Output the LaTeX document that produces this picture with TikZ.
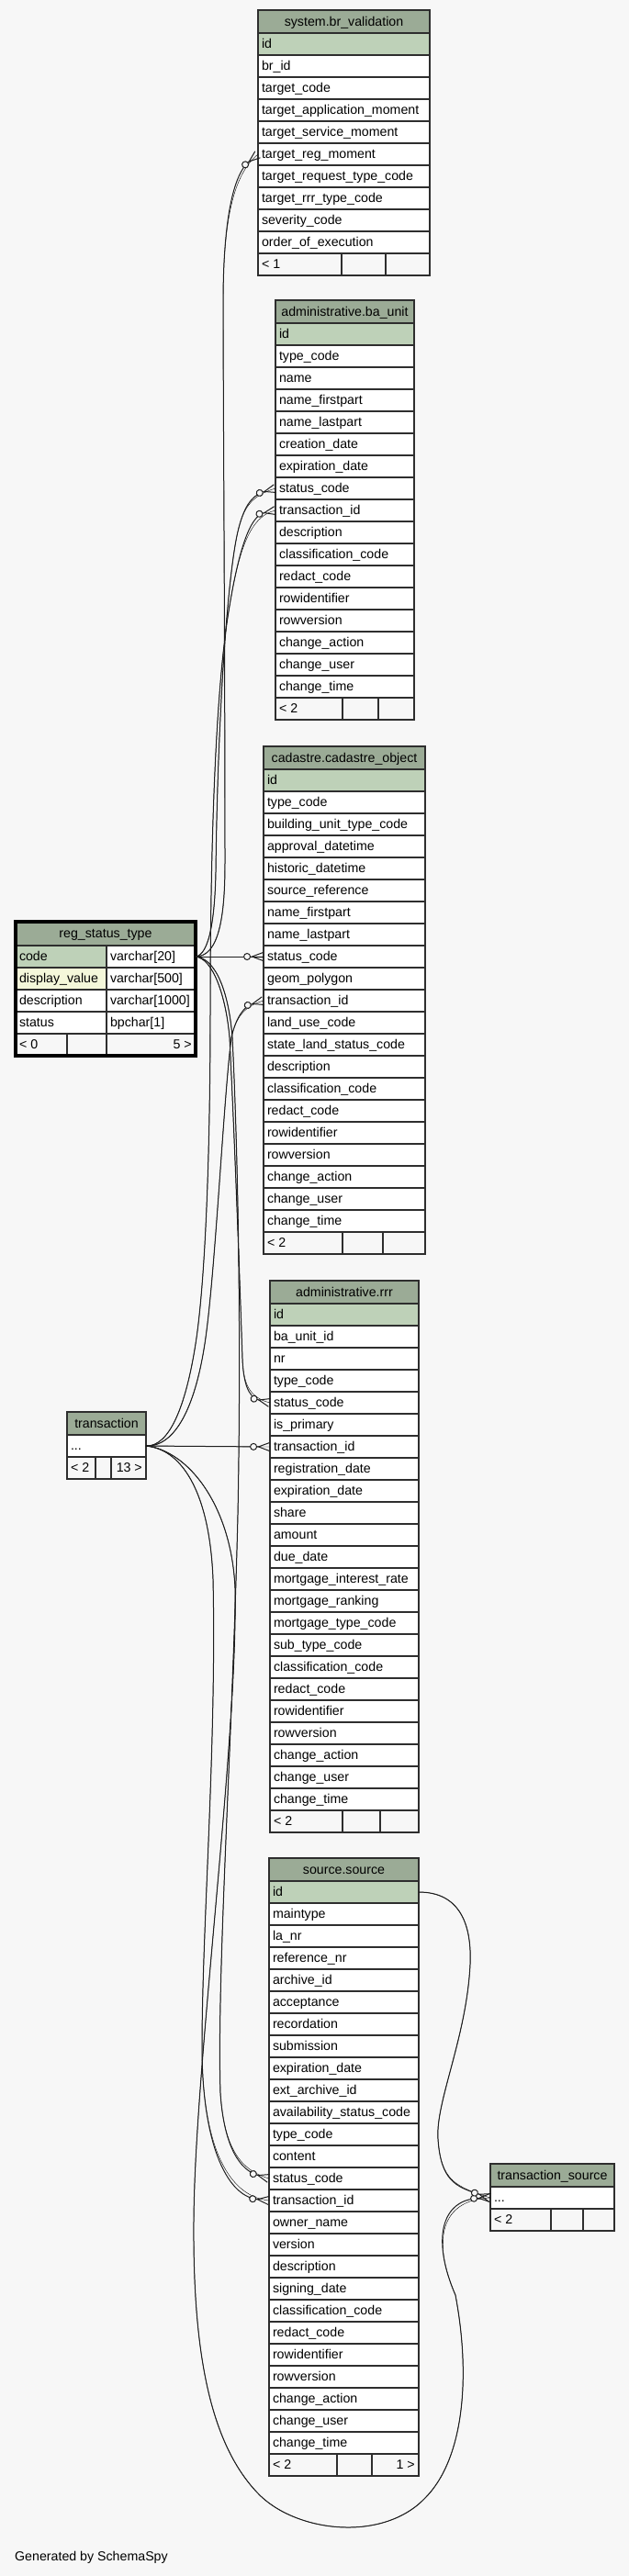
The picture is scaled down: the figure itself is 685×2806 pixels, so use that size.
\documentclass[tikz,border=0pt]{standalone}
\usepackage{fontspec}
\setmainfont{Liberation Sans}
\usetikzlibrary{arrows.meta}
\definecolor{bgcol}{HTML}{F7F7F7}
\definecolor{headcol}{HTML}{9BAB96}
\definecolor{pkcol}{HTML}{BED1B8}
\definecolor{idxcol}{HTML}{F4F7DA}
\definecolor{gridcol}{HTML}{2E2E2E}
\definecolor{linecol}{HTML}{1E1E1E}
\tikzset{
  cell/.style={draw=gridcol, line width=1.2pt, fill=white, inner xsep=4pt, inner ysep=0pt,
    outer sep=0pt, minimum height=24pt, text height=11.5pt, text depth=2.5pt,
    font=\fontsize{14.2}{17}\selectfont},
  tabhead/.style={cell, fill=headcol, minimum height=25pt},
  tabfoot/.style={cell, fill=bgcol},
  foottext/.style={inner xsep=4pt, inner ysep=0pt, text height=11.5pt, text depth=2.5pt,
    font=\fontsize{14.2}{17}\selectfont},
  tabframe/.style={draw=gridcol, line width=1.8pt},
  fk/.style={draw=linecol, line width=1pt, preaction={draw, arrows=-},
    -{Circle[fill=bgcol, length=8pt] Straight Barb[reversed, length=12pt, width=9pt]}}
}
\newcommand{\coldots}{...}
% table: [key fill] name, left, right, top, title, columns
\newcommand{\dbtable}[7][pkcol]{%
  \pgfmathsetmacro\colw{#4-#3}
  \pgfmathsetmacro\textw{#4-#3-8}
  \node[tabhead, minimum width=\colw pt, anchor=north west] (#2-h) at (#3,#5) {#6};
  \foreach \fld [count=\i] in {#7}{
    \ifnum\i=1 \def\rowcol{#1}\else\def\rowcol{white}\fi
    \node[cell, fill=\rowcol, anchor=north west] (#2-\i) at (#3,{#5+25+(\i-1)*24}) {\makebox[\textw pt][l]{\fld}};
    \xdef\nrows{\i}
  }
  \xdef\tableft{#3}\xdef\tabright{#4}
  \pgfmathsetmacro\footy{#5+25+\nrows*24}\xdef\footy{\footy}
}
% footer: name, split 1, split 2, left text, right text
\newcommand{\dbfoot}[5]{%
  \pgfmathsetmacro\wa{#2-\tableft}
  \pgfmathsetmacro\wb{#3-#2}
  \pgfmathsetmacro\wc{\tabright-#3}
  \node[tabfoot, minimum width=\wa pt, anchor=north west] (#1-f1) at (\tableft,\footy) {};
  \node[tabfoot, minimum width=\wb pt, anchor=north west] (#1-f2) at (#2,\footy) {};
  \node[tabfoot, minimum width=\wc pt, anchor=north west] (#1-f3) at (#3,\footy) {};
  \node[foottext, anchor=west] (#1-fl) at (#1-f1.west) {#4};
  \node[foottext, anchor=east] (#1-fr) at (#1-f3.east) {#5};
  \draw[tabframe] (#1-h.north west) rectangle (#1-f3.south east);
}

\begin{document}
\begin{tikzpicture}[x=1pt, y=-1pt]
\path[use as bounding box, fill=bgcol] (0,0) rectangle (685,2806);

\dbtable{brv}{281}{468}{11}{system.br\_validation}{id, br\_id, target\_code,
  target\_application\_moment, target\_service\_moment, target\_reg\_moment,
  target\_request\_type\_code, target\_rrr\_type\_code, severity\_code, order\_of\_execution}
\dbfoot{brv}{372}{420}{< 1}{}

\dbtable{bau}{300}{451}{327}{administrative.ba\_unit}{id, type\_code, name, name\_firstpart,
  name\_lastpart, creation\_date, expiration\_date, status\_code, transaction\_id, description,
  classification\_code, redact\_code, rowidentifier, rowversion, change\_action, change\_user,
  change\_time}
\dbfoot{bau}{373}{412}{< 2}{}

\dbtable{cad}{287}{463}{813}{cadastre.cadastre\_object}{id, type\_code, building\_unit\_type\_code,
  approval\_datetime, historic\_datetime, source\_reference, name\_firstpart, name\_lastpart,
  status\_code, geom\_polygon, transaction\_id, land\_use\_code, state\_land\_status\_code,
  description, classification\_code, redact\_code, rowidentifier, rowversion, change\_action,
  change\_user, change\_time}
\dbfoot{cad}{373}{417}{< 2}{}

\dbtable{rrr}{294}{456}{1395}{administrative.rrr}{id, ba\_unit\_id, nr, type\_code, status\_code,
  is\_primary, transaction\_id, registration\_date, expiration\_date, share, amount, due\_date,
  mortgage\_interest\_rate, mortgage\_ranking, mortgage\_type\_code, sub\_type\_code,
  classification\_code, redact\_code, rowidentifier, rowversion, change\_action, change\_user,
  change\_time}
\dbfoot{rrr}{373}{414}{< 2}{}

\dbtable{src}{293}{456}{2024}{source.source}{id, maintype, la\_nr, reference\_nr, archive\_id,
  acceptance, recordation, submission, expiration\_date, ext\_archive\_id,
  availability\_status\_code, type\_code, content, status\_code, transaction\_id, owner\_name,
  version, description, signing\_date, classification\_code, redact\_code, rowidentifier,
  rowversion, change\_action, change\_user, change\_time}
\dbfoot{src}{367}{405}{< 2}{1 >}

\dbtable[white]{tsr}{534}{669}{2357}{transaction\_source}{\coldots}
\dbfoot{tsr}{600}{635}{< 2}{}

\dbtable[white]{tx}{73}{159}{1538}{transaction}{\coldots}
\dbfoot{tx}{104}{121}{< 2}{13 >}

% reg_status_type, two columns
\node[tabhead, minimum width=196pt, minimum height=26pt, anchor=north west] (rst-h) at (17,1004) {reg\_status\_type};
\foreach \nm/\ty/\fc [count=\i] in {code/varchar[20]/pkcol, display\_value/varchar[500]/idxcol,
    description/varchar[1000]/white, status/bpchar[1]/white}{
  \node[cell, fill=\fc, anchor=north west] (rst-\i) at (17,{1030+(\i-1)*24}) {\makebox[91pt][l]{\nm}};
  \node[cell, anchor=north west] (rst-\i t) at (116,{1030+(\i-1)*24}) {\makebox[89pt][l]{\ty}};
}
\node[tabfoot, minimum width=56pt, anchor=north west] (rst-f1) at (17,1126) {};
\node[tabfoot, minimum width=43pt, anchor=north west] (rst-f2) at (73,1126) {};
\node[tabfoot, minimum width=97pt, anchor=north west] (rst-f3) at (116,1126) {};
\node[foottext, anchor=west] (rst-fl) at (rst-f1.west) {< 0};
\node[foottext, anchor=east] (rst-fr) at (rst-f3.east) {5 >};
\draw[draw=black, line width=3.2pt] (rst-h.north west) rectangle (rst-f3.south east);

% status codes
\draw[fk] (rst-1t.east) .. controls (238,1042) and (245,1000) .. (245,940)
  .. controls (245,700) and (243,420) .. (243,330) .. controls (243,240) and (254,190) .. (brv-6.west);
\draw[fk] (rst-1t.east) .. controls (228,1040) and (234,1000) .. (235,950)
  .. controls (237,780) and (248,620) .. (260,575) .. controls (265,556) and (272,540) .. (bau-8.west);
\draw[fk] (rst-1t.east) -- (cad-9.west);
\draw[fk] (rst-1t.east) .. controls (232,1044) and (246,1085) .. (250,1130)
  .. controls (256,1250) and (262,1420) .. (264,1480) .. controls (265,1505) and (270,1522) .. (rrr-5.west);
\draw[fk] (rst-1t.east) .. controls (235,1044) and (249,1080) .. (253,1130)
  .. controls (259,1250) and (263,1450) .. (259,1650) .. controls (253,1900) and (236,2150) .. (240,2280)
  .. controls (244,2340) and (262,2364) .. (src-14.west);

% transaction ids
\draw[fk] (tx-1.east) .. controls (185,1576) and (202,1530) .. (212,1470)
  .. controls (224,1400) and (229,1250) .. (229,1100) .. controls (229,900) and (236,740) .. (250,660)
  .. controls (260,600) and (272,562) .. (bau-9.west);
\draw[fk] (tx-1.east) .. controls (192,1576) and (212,1530) .. (222,1470)
  .. controls (234,1400) and (243,1200) .. (252,1130) .. controls (257,1108) and (266,1096) .. (cad-11.west);
\draw[fk] (tx-1.east) -- (rrr-7.west);
\draw[fk] (tx-1.east) .. controls (195,1578) and (228,1620) .. (232,1720)
  .. controls (236,1900) and (220,2100) .. (220,2230) .. controls (220,2330) and (245,2392) .. (src-15.west);
\draw[fk] (tx-1.east) .. controls (205,1580) and (252,1640) .. (256,1730)
  .. controls (259,1900) and (212,2250) .. (211,2420) .. controls (210,2560) and (228,2660) .. (280,2715)
  .. controls (320,2758) and (415,2770) .. (462,2722) .. controls (505,2680) and (513,2590) .. (496,2500)
  .. controls (470,2440) and (480,2396) .. (tsr-1.west);

% source id
\draw[fk] (src-1.east) .. controls (500,2061) and (514,2095) .. (512,2140)
  .. controls (508,2220) and (474,2290) .. (477,2330) .. controls (480,2375) and (496,2382) .. (tsr-1.west);

\node[font=\fontsize{14.2}{17}\selectfont, anchor=west, inner sep=0pt] (gen) at (16,2786) {Generated by SchemaSpy};
\end{tikzpicture}
\end{document}
